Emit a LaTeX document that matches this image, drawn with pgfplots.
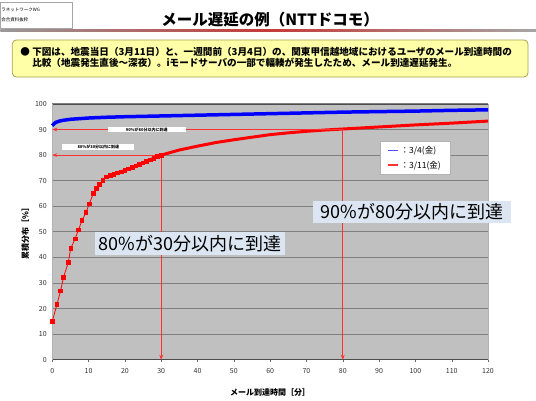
\documentclass[border=0pt]{standalone}
\usepackage{fontspec}
\setmainfont{Noto Sans CJK JP}
\usepackage{pgfplots}
\pgfplotsset{compat=1.18}
\usetikzlibrary{arrows.meta}
\definecolor{plotgray}{HTML}{C0C0C0}
\definecolor{gridgray}{HTML}{7F7F7F}
\definecolor{noteyellow}{HTML}{FFFFA8}
\definecolor{noteborder}{HTML}{A8A050}
\definecolor{callblue}{HTML}{DCE6F2}
\definecolor{serred}{HTML}{FF0000}
\definecolor{serblue}{HTML}{0000FF}
\definecolor{legred}{HTML}{FF3030}
\definecolor{legblue}{HTML}{5050FF}

\begin{document}
\begin{tikzpicture}
% page frame (pixel units, y up)
\path[fill=white] (0pt,0pt) rectangle (536pt,401pt);

% header
\draw[gray!70, line width=0.6pt, fill=white] (0pt,373pt) rectangle (72pt,399pt);
\node[anchor=west, font=\fontsize{4.5}{5}\selectfont, inner sep=0] at (1pt,391pt) {ラネットワークWG};
\node[anchor=west, font=\fontsize{4.5}{5}\selectfont, inner sep=0] at (1pt,381pt) {会合資料抜粋};
\node[font=\fontsize{15.5}{17}\selectfont\bfseries] at (270pt,381pt) {メール遅延の例（NTTドコモ）};
\shade[left color=gray!80, right color=gray!70, middle color=red!55!gray] (0pt,369.5pt) rectangle (536pt,371.5pt);

% yellow note
\draw[noteborder, line width=0.8pt, fill=noteyellow, rounded corners=4pt] (12pt,324pt) rectangle (528pt,361pt);
\node[anchor=west, inner sep=0, font=\fontsize{9.6}{11}\selectfont\bfseries, align=left] at (20pt,343.5pt)
  {● 下図は、地震当日（3月11日）と、一週間前（3月4日）の、関東甲信越地域におけるユーザのメール到達時間の\\
   \phantom{●} 比較（地震発生直後～深夜）。iモードサーバの一部で輻輳が発生したため、メール到達遅延発生。};

\begin{axis}[
  at={(52pt,41pt)}, anchor=south west,
  scale only axis, width=436pt, height=256pt,
  xmin=0, xmax=120, ymin=0, ymax=100,
  xtick={0,10,...,120}, ytick={0,10,...,100},
  axis background/.style={fill=plotgray},
  ymajorgrids, major grid style={gridgray, line width=0.9pt},
  axis line style={gridgray!60},
  separate axis lines,
  x axis line style={black!70, line width=0.8pt},
  tick style={black!60},
  xtick pos=bottom, ytick pos=left,
  major tick length=2pt,
  tick align=outside,
  ytick style={draw=none},
  ticklabel style={font=\fontsize{7}{7}\selectfont, text=black!80},
  xticklabel style={yshift=-3pt},
  /pgf/number format/assume math mode=true,
  xlabel={メール到達時間［分］},
  ylabel={累積分布［\%］},
  xlabel style={font=\fontsize{8}{8}\selectfont\bfseries, yshift=-8pt},
  ylabel style={font=\fontsize{8}{8}\selectfont\bfseries, yshift=-1pt},
  clip=false,
  legend style={at={(0.752,0.855)}, anchor=north west, draw=gray!60, fill=white,
    font=\fontsize{8.5}{10}\selectfont, inner xsep=7pt, inner ysep=3pt, row sep=2pt},
  legend cell align=left,
  legend image code/.code={\draw[#1] (0pt,0pt) -- (10pt,0pt);},
]
\addlegendimage{draw=legblue, line width=1.5pt}
\addlegendentry{：3/4(金)}
\addlegendimage{draw=legred, line width=1.5pt}
\addlegendentry{：3/11(金)}

% 3/4 series
\addplot[forget plot, serblue, line width=3.5pt] coordinates {
 (0,91.5) (0.5,92.3) (1,92.8) (2,93.3) (3,93.6) (5,94) (8,94.3) (10,94.5)
 (15,94.8) (20,95) (30,95.3) (40,95.6) (50,95.9) (60,96.2) (70,96.5)
 (80,96.8) (90,97) (100,97.2) (110,97.5) (120,97.7)};

% 3/11 series, tail as thick line
\addplot[forget plot, serred, line width=3pt] coordinates {
 (16,72) (20,74) (25,77) (30,80) (35,82) (40,83.5) (45,84.9) (50,86)
 (55,87) (60,88) (65,88.7) (70,89.3) (75,89.8) (80,90.2) (90,91)
 (100,91.8) (110,92.5) (120,93.3)};
% 3/11 series, marked head
\addplot[forget plot, serred, line width=0.8pt, mark=square*, mark size=1.8pt] coordinates {
 (0,15) (1.3,21.7) (2.3,27) (3.1,32.3) (4.4,38) (5.1,43.6) (6.3,47.3)
 (7.2,50.8) (8.2,54.4) (9.3,57.7) (10.2,61) (11.3,65) (12.2,67) (12.9,68.5)
 (13.9,70) (14.9,71.5) (16,72) (17,72.5) (18,73) (19,73.5) (20,74)
 (21,74.6) (22,75.2) (23,75.8) (24,76.4) (25,77) (26,77.6) (27,78.2)
 (28,78.8) (29,79.4) (30,80)};

% annotation arrows
\draw[draw=legred, fill=legred, line width=1.1pt, -{Stealth[length=5pt]}] (axis cs:80,90) -- (axis cs:0,90);
\draw[draw=legred, fill=legred, line width=1.1pt, -{Stealth[length=5pt]}] (axis cs:30,80) -- (axis cs:0,80);
\draw[draw=legred, fill=legred, line width=1.1pt, -{Stealth[length=5pt]}] (axis cs:80,90) -- (axis cs:80,0);
\draw[draw=legred, fill=legred, line width=1.1pt, -{Stealth[length=5pt]}] (axis cs:30,80) -- (axis cs:30,0);

\node[fill=white, inner sep=1pt, font=\fontsize{4}{4}\selectfont\bfseries, minimum width=78pt] at (axis cs:26,90) {90\%が80分以内に到達};
\node[fill=white, inner sep=1pt, font=\fontsize{4}{4}\selectfont\bfseries, minimum width=72pt] at (axis cs:12.7,83.2) {80\%が30分以内に到達};
\end{axis}

% callouts
\node[fill=callblue, inner xsep=4pt, inner ysep=3pt, font=\fontsize{18}{20}\selectfont] at (190pt,157pt) {80\%が30分以内に到達};
\node[fill=callblue, inner xsep=8pt, inner ysep=3pt, font=\fontsize{18}{20}\selectfont] at (412pt,189pt) {90\%が80分以内に到達};
\end{tikzpicture}
\end{document}
